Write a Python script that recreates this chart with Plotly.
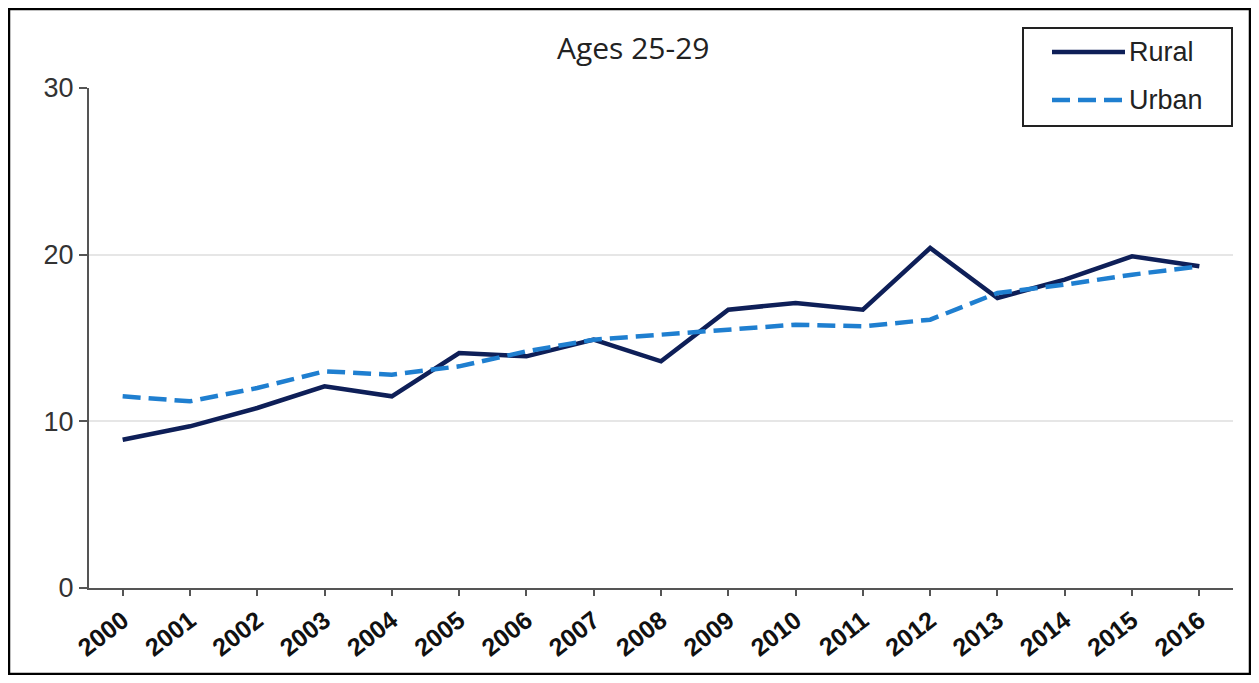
import plotly.graph_objects as go

years = [str(y) for y in range(2000, 2017)]
rural = [8.9, 9.7, 10.8, 12.1, 11.5, 14.1, 13.9, 14.9, 13.6, 16.7, 17.1, 16.7, 20.4, 17.4, 18.5, 19.9, 19.3]
urban = [11.5, 11.2, 12.0, 13.0, 12.8, 13.3, 14.2, 14.9, 15.2, 15.5, 15.8, 15.7, 16.1, 17.7, 18.2, 18.8, 19.3]
yticks = [0, 10, 20, 30]
series_names = ["Rural", "Urban"]
colors = ["#0e1f58", "#1f7fd0"]
dashes = ["solid", "18px,8px"]

# page body has an 8px margin; work in figure coordinates (screen - 8)
OFF = 8
W, H = 1243, 667
L, R, T, B = 89 - OFF, 26 - OFF, 88 - OFF, 95 - OFF
pw, ph = W - L - R, H - T - B


def px(x):
    return (x - OFF - L) / pw


def py(y):
    return (H - B - (y - OFF)) / ph


fig = go.Figure()
for name, vals, c, d in zip(series_names, [rural, urban], colors, dashes):
    fig.add_trace(go.Scatter(x=years, y=vals, name=name, mode="lines",
                             line=dict(color=c, width=4.5, dash=d)))

shapes = [
    dict(type="rect", xref="paper", yref="paper",
         x0=(1 - L) / pw, x1=(W - 1 - L) / pw, y0=(H - B - (H - 1)) / ph, y1=(H - B - 1) / ph,
         line=dict(color="black", width=2.5), fillcolor="rgba(0,0,0,0)", layer="below"),
    # legend box
    dict(type="rect", xref="paper", yref="paper",
         x0=px(1023), x1=px(1232), y0=py(126), y1=py(28),
         line=dict(color="#222", width=2), fillcolor="white", layer="above"),
]
annotations = [dict(text="Ages 25-29", x=px(633), y=py(48), xref="paper", yref="paper",
                    showarrow=False, xanchor="center", yanchor="middle",
                    font=dict(family="Open Sans", size=30, color="#222"))]
for i, (name, c, d) in enumerate(zip(series_names, colors, dashes)):
    yy = 52 + i * 48
    shapes.append(dict(type="line", xref="paper", yref="paper",
                       x0=px(1052), x1=px(1125), y0=py(yy), y1=py(yy),
                       line=dict(color=c, width=4.5, dash=d), layer="above"))
    annotations.append(dict(text=name, x=px(1127), y=py(yy), xref="paper", yref="paper",
                            showarrow=False, xanchor="left", yanchor="middle",
                            font=dict(family="Liberation Sans, Arial", size=27, color="#222")))

fig.update_layout(
    width=W, height=H,
    margin=dict(l=L, r=R, t=T, b=B),
    paper_bgcolor="white", plot_bgcolor="white",
    showlegend=False,
    xaxis=dict(type="category", range=[-0.5, 16.5], showgrid=False,
               showline=True, linecolor="#555", linewidth=2,
               ticks="outside", ticklen=6, tickcolor="#555", tickwidth=1.5,
               tickangle=-38,
               tickfont=dict(family="Liberation Sans, Arial", size=25, color="#111", weight="bold")),
    yaxis=dict(range=[0, 30], tickvals=yticks, showgrid=True, gridcolor="#e6e6e6", gridwidth=2,
               showline=True, linecolor="#555", linewidth=2, zeroline=False,
               ticks="outside", ticklen=8, tickcolor="#555", tickwidth=1.5,
               tickfont=dict(family="Liberation Sans, Arial", size=27, color="#333")),
    annotations=annotations,
    shapes=shapes,
)

fig.write_html("out.html")
